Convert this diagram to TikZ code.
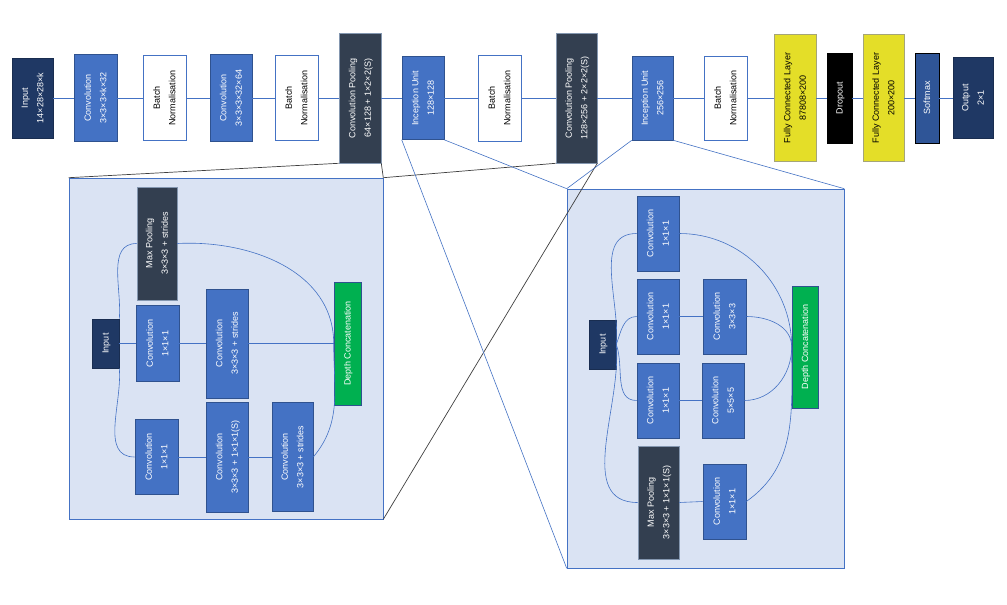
\documentclass[tikz,border=0pt]{standalone}
\usepackage{fontspec}
\setmainfont{Liberation Sans}
\usepackage{graphicx}
\definecolor{cnavy}{RGB}{31,56,100}
\definecolor{cnavyb}{RGB}{25,45,80}
\definecolor{cblue}{RGB}{68,114,196}
\definecolor{cblueb}{RGB}{47,82,143}
\definecolor{cslate}{RGB}{51,63,80}
\definecolor{cslateb}{RGB}{132,151,176}
\definecolor{cyel}{RGB}{228,222,40}
\definecolor{cyelb}{RGB}{165,165,120}
\definecolor{csoft}{RGB}{47,85,151}
\definecolor{cgreen}{RGB}{0,176,80}
\definecolor{cpanel}{RGB}{218,227,243}
\definecolor{cgray}{RGB}{64,64,64}
\newcommand{\vt}[1]{\rotatebox{90}{\begin{tabular}{@{}c@{}}#1\end{tabular}}}
\begin{document}
\begin{tikzpicture}[x=1pt,y=-1pt,
  font=\fontsize{9}{15.5}\selectfont,
  box/.style={draw, inner sep=0pt, line width=0.6pt},
  sz/.style 2 args={minimum width=#1pt, minimum height=#2pt},
  navy/.style={box, fill=cnavy, draw=cnavyb, text=white},
  blu/.style={box, fill=cblue, draw=cblueb, text=white},
  wht/.style={box, fill=white, draw=cblue, text=black},
  slate/.style={box, fill=cslate, draw=cslateb, text=white},
  yel/.style={box, fill=cyel, draw=cyelb, text=black},
  blk/.style={box, fill=black, draw=black, text=white},
  soft/.style={box, fill=csoft, draw=black, text=white},
  grn/.style={box, fill=cgreen, draw=cblueb, text=white},
  panel/.style={draw=cblue, fill=cpanel, line width=0.6pt, inner sep=0pt},
  conn/.style={draw=cblue, line width=0.6pt},
  zl/.style={draw=cgray, line width=0.7pt}]
\useasboundingbox (0,0) rectangle (1007,605);
\fill[white] (0,0) rectangle (1007,605);

% ---------- top row ----------
\node[navy, sz={41}{80}]  (inp)  at (32.5,98) {\vt{Input\\14×28×28×k}};
\node[blu,  sz={43}{87}]  (c1)   at (95.5,98) {\vt{Convolution\\3×3×3×k×32}};
\node[wht,  sz={43}{85}]  (bn1)  at (164.5,98) {\vt{Batch\\Normalisation}};
\node[blu,  sz={42}{87}]  (c2)   at (231,98) {\vt{Convolution\\3×3×3×32×64}};
\node[wht,  sz={43}{85}]  (bn2)  at (296.5,98) {\vt{Batch\\Normalisation}};
\node[slate,sz={42}{130}] (cp1)  at (360,98) {\vt{Convolution Pooling\\64×128 + 1×2×2(S)}};
\node[blu,  sz={42}{83}]  (inc1) at (423,98) {\vt{Inception Unit\\128×128}};
\node[wht,  sz={43}{86}]  (bn3)  at (499.5,98) {\vt{Batch\\Normalisation}};
\node[slate,sz={41}{130}] (cp2)  at (576.5,98) {\vt{Convolution Pooling\\128×256 + 2×2×2(S)}};
\node[blu,  sz={41}{84}]  (inc2) at (652.5,98) {\vt{Inception Unit\\256×256}};
\node[wht,  sz={43}{84}]  (bn4)  at (725.5,98) {\vt{Batch\\Normalisation}};
\node[yel,  sz={42}{127}] (fc1)  at (795,98) {\vt{Fully Connected Layer\\87808×200}};
\node[blk,  sz={25}{90}]  (drop) at (839.5,98) {\vt{Dropout}};
\node[yel,  sz={41}{127}] (fc2)  at (883.5,98) {\vt{Fully Connected Layer\\200×200}};
\node[soft, sz={24}{90}]  (soft) at (927,98) {\vt{Softmax}};
\node[navy, sz={40}{81}]  (out)  at (973,98) {\vt{Output\\2×1}};

\foreach \a/\b in {inp/c1,c1/bn1,bn1/c2,c2/bn2,bn2/cp1,cp1/inc1,inc1/bn3,bn3/cp2,cp2/inc2,inc2/bn4,bn4/fc1,fc1/drop,drop/fc2,fc2/soft,soft/out}
  \draw[conn] (\a.east) -- (\b.west);

% ---------- panels ----------
\node[panel, sz={314}{341}] (lp) at (226,348.5) {};
\node[panel, sz={277}{379}] (rp) at (705.5,378.5) {};

% zoom lines
\draw[zl] (cp1.south west) -- (lp.north west);
\draw[zl] (cp1.south east) -- (lp.north east);
\draw[zl] (lp.north east) -- (cp2.south west);
\draw[zl] (lp.south east) -- (cp2.south east);
\draw[conn] (inc1.south west) -- (rp.south west);
\draw[conn] (inc1.south east) -- (rp.north west);
\draw[conn] (inc2.south west) -- (rp.north west);
\draw[conn] (inc2.south east) -- (rp.north east);

% ---------- left panel ----------
\node[slate,sz={40}{113}] (lmp) at (157,243.5) {\vt{Max Pooling\\3×3×3 + strides}};
\node[navy, sz={27}{49}]  (lin) at (105.5,343.5) {\vt{Input}};
\node[blu,  sz={43}{76}]  (lc1) at (157.5,343.5) {\vt{Convolution\\1×1×1}};
\node[blu,  sz={42}{109}] (lc2) at (227,343.5) {\vt{Convolution\\3×3×3 + strides}};
\node[grn,  sz={27}{123}] (ldc) at (347.5,343.5) {\vt{Depth Concatenation}};
\node[blu,  sz={43}{75}]  (lc3) at (156.5,457) {\vt{Convolution\\1×1×1}};
\node[blu,  sz={42}{110}] (lc4) at (227,457) {\vt{Convolution\\3×3×3 + 1×1×1(S)}};
\node[blu,  sz={41}{109}] (lc5) at (292.5,457) {\vt{Convolution\\3×3×3 + strides}};

\draw[conn] (lin.east) -- (lc1.west);
\draw[conn] (lc1.east) -- (lc2.west);
\draw[conn] (lc2.east) -- (ldc.west);
\draw[conn] (lc3.east) -- (lc4.west);
\draw[conn] (lc4.east) -- (lc5.west);
\draw[conn] (lin.north east) to[out=85,in=180] (lmp.west);
\draw[conn] (lin.south east) to[out=-85,in=180] (lc3.west);
\draw[conn] (lmp.east) to[out=3,in=90] (ldc.west);
\draw[conn] (lc5.east) to[out=50,in=-90] (ldc.west);

% ---------- right panel ----------
\node[blu,  sz={42}{75}]  (rc1) at (658,233.5) {\vt{Convolution\\1×1×1}};
\node[blu,  sz={42}{75}]  (rc2) at (658,316.5) {\vt{Convolution\\1×1×1}};
\node[blu,  sz={43}{75}]  (rc3) at (724.5,316.5) {\vt{Convolution\\3×3×3}};
\node[navy, sz={27}{49}]  (rin) at (602.5,344.5) {\vt{Input}};
\node[grn,  sz={26}{122}] (rdc) at (805,347) {\vt{Depth Concatenation}};
\node[blu,  sz={42}{75}]  (rc4) at (658,400.5) {\vt{Convolution\\1×1×1}};
\node[blu,  sz={42}{75}]  (rc5) at (723,400.5) {\vt{Convolution\\5×5×5}};
\node[slate,sz={41}{113}] (rmp) at (658.5,502.5) {\vt{Max Pooling\\3×3×3 + 1×1×1(S)}};
\node[blu,  sz={43}{75}]  (rc6) at (724.5,501.5) {\vt{Convolution\\1×1×1}};

\draw[conn] (rc2.east) -- (rc3.west);
\draw[conn] (rc4.east) -- (rc5.west);
\draw[conn] (rmp.east) -- (rc6.west);
\draw[conn] (rin.east) to[out=85,in=180] (rc1.west);
\draw[conn] (rin.east) to[out=70,in=180] (rc2.west);
\draw[conn] (rin.east) to[out=-70,in=180] (rc4.west);
\draw[conn] (rin.east) to[out=-85,in=180] (rmp.west);
\draw[conn] (rc1.east) to[out=0,in=90] (rdc.west);
\draw[conn] (rc3.east) to[out=0,in=90] (rdc.west);
\draw[conn] (rc5.east) to[out=0,in=-90] (rdc.west);
\draw[conn] (rc6.east) to[out=35,in=-90] (rdc.west);
\end{tikzpicture}
\end{document}
